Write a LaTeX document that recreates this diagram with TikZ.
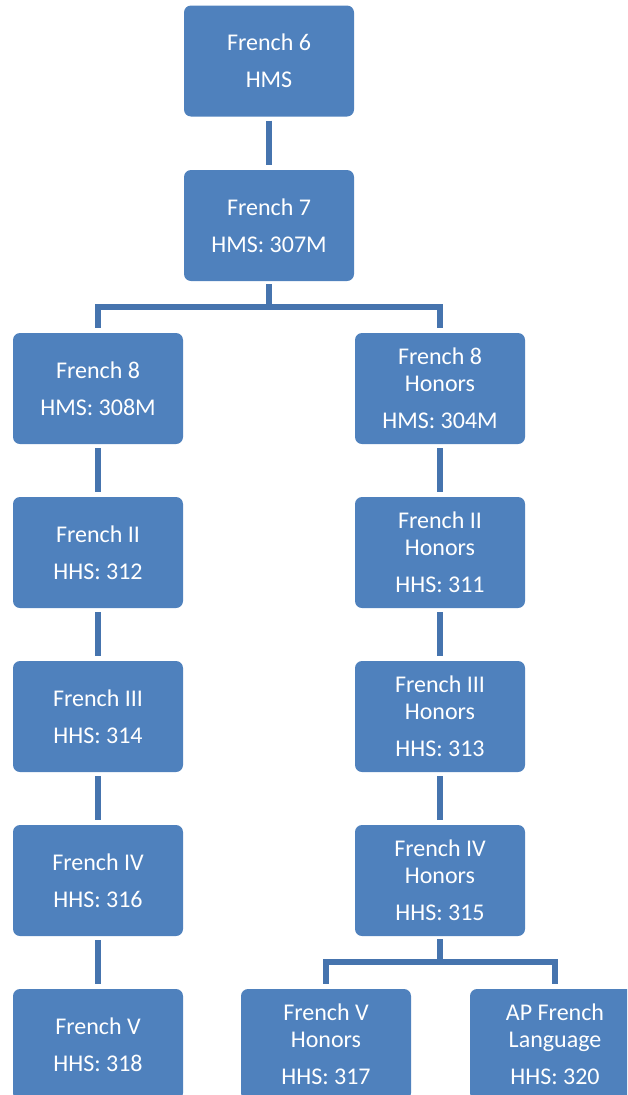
\documentclass[tikz,border=0pt]{standalone}
\usepackage{fontspec}
\setmainfont{Carlito}
\definecolor{boxblue}{HTML}{4F81BD}
\definecolor{linkblue}{HTML}{4674AE}
\begin{document}
\begin{tikzpicture}[x=1pt,y=-1pt,
  box/.style={draw=none,fill=boxblue,rounded corners=7pt,minimum width=170pt,minimum height=111pt,
    inner sep=0pt,align=center,text=white,font=\fontsize{24}{27}\selectfont},
  conn/.style={draw=linkblue,line width=6pt,line join=miter}]
\useasboundingbox (0,0) rectangle (627,1095);
\clip (0,0) rectangle (627,1095);
\node[box] (b1) at (269,61) {French 6\\[10pt]HMS};
\node[box] (b2) at (269,225.5) {French 7\\[10pt]HMS: 307M};
\node[box] (l1) at (98,388.5) {French 8\\[10pt]HMS: 308M};
\node[box] (r1) at (440,388.5) {French 8\\Honors\\[10pt]HMS: 304M};
\node[box] (l2) at (98,552.5) {French II\\[10pt]HHS: 312};
\node[box] (r2) at (440,552.5) {French II\\Honors\\[10pt]HHS: 311};
\node[box] (l3) at (98,716.5) {French III\\[10pt]HHS: 314};
\node[box] (r3) at (440,716.5) {French III\\Honors\\[10pt]HHS: 313};
\node[box] (l4) at (98,880.5) {French IV\\[10pt]HHS: 316};
\node[box] (r4) at (440,880.5) {French IV\\Honors\\[10pt]HHS: 315};
\node[box] (l5) at (98,1044.5) {French V\\[10pt]HHS: 318};
\node[box] (r5a) at (326,1044.5) {French V\\Honors\\[10pt]HHS: 317};
\node[box] (r5b) at (555,1044.5) {AP French\\Language\\[10pt]HHS: 320};
\coordinate (bar1) at (269,307);
\coordinate (bar2) at (440,962);
\draw[conn,shorten <=4pt,shorten >=5pt] (b1.south) -- (b2.north);
\draw[conn] ([yshift=-3pt]b2.south) -- (bar1) -| ([yshift=5pt]l1.north);
\draw[conn] (bar1) -| ([yshift=5pt]r1.north);
\foreach \a/\b in {l1/l2,l2/l3,l3/l4,l4/l5,r1/r2,r2/r3,r3/r4}
  \draw[conn,shorten <=4pt,shorten >=5pt] (\a.south) -- (\b.north);
\draw[conn] ([yshift=-3pt]r4.south) -- (bar2) -| ([yshift=5pt]r5a.north);
\draw[conn] (bar2) -| ([yshift=5pt]r5b.north);
\end{tikzpicture}
\end{document}
